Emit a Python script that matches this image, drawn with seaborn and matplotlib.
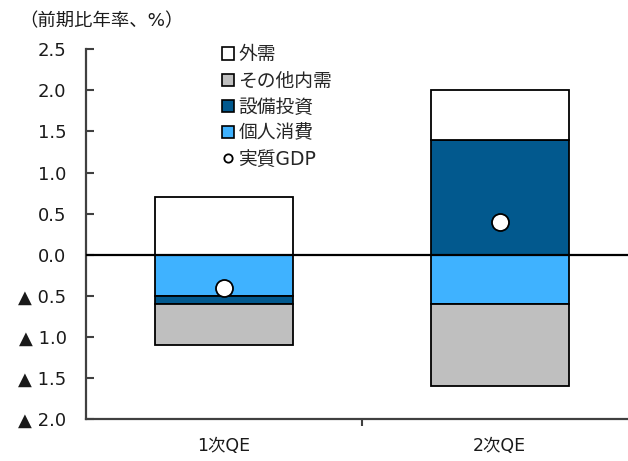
import matplotlib
matplotlib.use("Agg")
import matplotlib.pyplot as plt
from matplotlib.patches import Patch
from matplotlib.lines import Line2D
import numpy as np
import pandas as pd
import seaborn as sns

# Contributions to real GDP growth (annualised q/q, %)
periods = ["1次QE", "2次QE"]
consumption = [-0.5, -0.6]      # 個人消費
capex = [-0.1, 1.4]             # 設備投資
other_domestic = [-0.5, -1.0]   # その他内需
external = [0.7, 0.6]           # 外需
real_gdp = [-0.4, 0.4]          # 実質GDP

yticks = [2.5, 2.0, 1.5, 1.0, 0.5, 0.0, -0.5, -1.0, -1.5, -2.0]

sns.set_theme(style="white")
plt.rcParams["font.family"] = ["DejaVu Sans", "Noto Sans CJK JP"]
plt.rcParams["ytick.direction"] = "in"

fig = plt.figure(figsize=(6.28, 4.61), dpi=100)
ax = fig.add_axes([0.137, 0.091, 0.863, 0.802])

components = [
    ("個人消費", consumption, "#3fb2ff"),
    ("設備投資", capex, "#02598e"),
    ("その他内需", other_domestic, "#bfbfbf"),
    ("外需", external, "#ffffff"),
]

pos_base = np.zeros(len(periods))
neg_base = np.zeros(len(periods))
for name, vals, color in components:
    vals = np.asarray(vals, dtype=float)
    bottom = np.where(vals >= 0, pos_base, neg_base)
    df = pd.DataFrame({"period": periods, "value": vals})
    sns.barplot(data=df, x="period", y="value", ax=ax, color=color,
                bottom=bottom, width=0.5, edgecolor="black", linewidth=1.3,
                saturation=1, errorbar=None, order=periods)
    pos_base = pos_base + np.where(vals >= 0, vals, 0)
    neg_base = neg_base + np.where(vals < 0, vals, 0)

ax.axhline(0, color="black", linewidth=1.6, zorder=3)

gdp_df = pd.DataFrame({"period": periods, "value": real_gdp})
sns.scatterplot(data=gdp_df, x="period", y="value", ax=ax, s=150,
                color="white", edgecolor="black", linewidth=1.3, zorder=5)

ax.set_xlim(-0.5, 1.465)
ax.set_ylim(-2.0, 2.5)
ax.set_yticks(yticks)
ax.set_yticklabels([f"{v:.1f}" if v >= 0 else f"▲ {abs(v):.1f}" for v in yticks],
                   fontsize=13, color="#1a1a1a")
ax.set_xticks([0, 1])
ax.set_xticklabels(periods, fontsize=12.5, color="#1a1a1a")
ax.set_xticks([0.5], minor=True)
ax.tick_params(axis="x", which="major", bottom=True, length=0, pad=13)
ax.tick_params(axis="x", which="minor", bottom=True, length=5, width=1.5,
               color="#404040", direction="out")
ax.tick_params(axis="y", left=True, length=6, width=1.5, color="#404040",
               direction="in", pad=14)
ax.set_xlabel("")
ax.set_ylabel("")

for side in ["top", "right"]:
    ax.spines[side].set_visible(False)
for side in ["left", "bottom"]:
    ax.spines[side].set_color("#404040")
    ax.spines[side].set_linewidth(1.6)

handles = [
    Patch(facecolor="#ffffff", edgecolor="black", linewidth=1.2, label="外需"),
    Patch(facecolor="#bfbfbf", edgecolor="black", linewidth=1.2, label="その他内需"),
    Patch(facecolor="#02598e", edgecolor="black", linewidth=1.2, label="設備投資"),
    Patch(facecolor="#3fb2ff", edgecolor="black", linewidth=1.2, label="個人消費"),
    Line2D([], [], linestyle="none", marker="o", markersize=6,
           markerfacecolor="white", markeredgecolor="black",
           markeredgewidth=1.3, label="実質GDP"),
]
fig.legend(handles=handles, loc="upper left", bbox_to_anchor=(0.342, 0.918),
           frameon=False, fontsize=13.5, handlelength=0.65, handleheight=0.65,
           handletextpad=0.2, labelspacing=0.38, borderaxespad=0)

fig.text(0.03, 0.955, "（前期比年率、%）", fontsize=13.2, color="#1a1a1a",
         va="center", ha="left")

fig.savefig("out.png", dpi=100)
